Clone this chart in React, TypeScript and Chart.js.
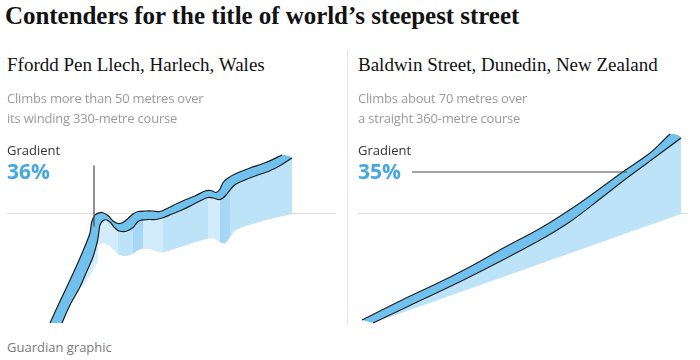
import React, { useEffect, useRef } from 'react';
import { Chart, registerables } from 'chart.js';

Chart.register(...registerables);

type P = [number, number];

// ---- Text ----
const titleText = 'Contenders for the title of world’s steepest street';
const streetNames = ['Ffordd Pen Llech, Harlech, Wales', 'Baldwin Street, Dunedin, New Zealand'];
const streetNotes = [
  ['Climbs more than 50 metres over', 'its winding 330-metre course'],
  ['Climbs about 70 metres over', 'a straight 360-metre course'],
];
const gradientLabel = 'Gradient';
const gradients = ['36%', '35%'];
const sourceText = 'Guardian graphic';

// ---- Ffordd Pen Llech profile (drawing units: x along panel, y above the reference line) ----
const penLlechFarEdge: P[] = [
  [43, -110], [51, -92.5], [60, -73.5], [69, -54], [76, -38], [83, -20], [84.7, -9], [88, -2],
  [92, 0.2], [96, 0.3], [101, -2.5], [106, -8], [111, -10.5], [116, -9.5], [121, -5.5], [126, -1],
  [131, 1.5], [138, 2], [146, 2], [153, 1.5], [161, 5], [170, 9.5], [179, 13.5], [188, 17],
  [198, 22], [204, 22.5], [209, 20.5], [213, 24], [216, 30.5], [221, 35], [228, 39], [243, 45],
  [259, 50.5], [275, 58],
];
const penLlechNearEdge: P[] = [
  [55, -110], [63, -92], [73, -74], [80, -58], [86, -44], [90, -30], [91, -25], [92, -18],
  [93, -12], [96, -7.5], [100, -7], [104, -10], [107, -14], [111, -17.5], [115, -18.5], [120, -18],
  [126, -14.5], [130, -9.5], [133, -7.5], [136, -6.8], [143, -6.5], [149, -6.5], [156, -4.8],
  [165, -1], [175, 3], [185, 8], [193, 12], [201, 15.5], [206, 15], [211, 13.5], [213, 13.5],
  [216, 15], [219, 18], [223, 23], [227, 27.5], [233, 31], [246, 36.3], [263, 42.3], [275, 48.5],
  [285, 55],
];
const penLlechFaceBase: P[] = [
  [91, -31], [97, -30], [103, -33], [111, -41.5], [116, -42.8], [121, -42.5], [126, -40.5],
  [131, -37], [136, -35.5], [143, -36], [150, -38.5], [156, -39.5], [165, -36.5], [175, -33.5],
  [188, -29], [201, -25.5], [206, -25], [210, -27], [213, -29.5], [218, -30.5], [221, -27],
  [223, -24], [227, -18], [235, -14], [245, -11], [258, -7], [273, -3.5], [285, -1],
];
const penLlechSlopeSide: P[] = [
  [92, -18], [91, -25], [90, -30], [86, -44], [80, -58], [73, -74], [77, -72], [84, -61],
  [91, -48], [91, -31],
];
const penLlechFaceBreaks = [91, 111, 126, 136, 156, 201, 213, 223, 285];
const penLlechFaceShades = ['light', 'medium', 'dark', 'light', 'medium', 'light', 'dark', 'medium'];
const penLlechPointerX = [87, 87];
const penLlechPointerY = [47.5, -13.5];

// ---- Baldwin Street profile ----
const baldwinFarEdge: P[] = [
  [4, -107], [42, -88], [82, -69], [112, -53.7], [145, -35.3], [185, -13.7], [219, 8],
  [242, 24.5], [265, 41.3], [292, 60], [312, 79],
];
const baldwinNearEdge: P[] = [
  [15, -110], [52, -92.5], [112, -63.7], [179, -28.7], [212, -8.7], [242, 14], [265, 32],
  [292, 52], [323, 75],
];
const baldwinFaceBase: P[] = [[15, -110], [323, -1]];
const baldwinPointerX = [54, 269];
const baldwinPointerY = [41, 41];

// ---- Style ----
const COLORS: Record<string, string> = {
  light: '#d3ecfc',
  medium: '#bde3f9',
  dark: '#a6d8f5',
  road: '#70c1ee',
  edge: '#1e1e1e',
  pointer: '#4a4a4a',
  grid: '#dcdcdc',
  pct: '#47a7df',
};

const toXY = (a: P[]) => a.map(([x, y]) => ({ x, y }));
const polygon = (top: P[], bottom: P[]) => [...top, ...bottom.slice().reverse()];
const within = (a: P[], lo: number, hi: number) => a.filter(([x]) => x >= lo && x <= hi);

function shapeSet(pts: P[], color: string, order: number, tension = 0) {
  return {
    data: toXY(pts),
    backgroundColor: color,
    borderWidth: 0,
    fill: 'shape',
    tension,
    pointRadius: 0,
    pointHoverRadius: 0,
    order,
  };
}
function lineSet(pts: P[], color: string, width: number, order: number, tension = 0.3) {
  return {
    data: toXY(pts),
    borderColor: color,
    borderWidth: width,
    fill: false,
    tension,
    pointRadius: 0,
    pointHoverRadius: 0,
    order,
  };
}

function makeConfig(datasets: any[], xMax: number): any {
  return {
    type: 'line',
    data: { datasets },
    options: {
      animation: false,
      responsive: false,
      maintainAspectRatio: false,
      devicePixelRatio: 1,
      events: [],
      layout: { padding: 0 },
      plugins: { legend: { display: false }, tooltip: { enabled: false } },
      scales: {
        x: { type: 'linear', display: false, min: 0, max: xMax },
        y: {
          type: 'linear',
          min: -117,
          max: 83,
          ticks: { display: false },
          border: { display: false },
          grid: { drawTicks: false, color: COLORS.grid, lineWidth: 1 },
          afterBuildTicks: (s: any) => {
            s.ticks = [{ value: 0 }];
          },
        },
      },
    },
  };
}

function penLlechDatasets() {
  const ds: any[] = [];
  ds.push(shapeSet(polygon(within(penLlechNearEdge, 91, 285), penLlechFaceBase), COLORS.medium, 12));
  for (let i = 0; i < penLlechFaceShades.length; i++) {
    const lo = penLlechFaceBreaks[i];
    const hi = penLlechFaceBreaks[i + 1];
    ds.push(
      shapeSet(
        polygon(within(penLlechNearEdge, lo, hi), within(penLlechFaceBase, lo, hi)),
        COLORS[penLlechFaceShades[i]],
        11
      )
    );
  }
  ds.push(shapeSet(penLlechSlopeSide, COLORS.light, 11));
  ds.push(shapeSet(polygon(penLlechFarEdge, penLlechNearEdge), COLORS.road, 6, 0.3));
  ds.push(lineSet(penLlechFarEdge, COLORS.edge, 1.2, 2));
  ds.push(lineSet(penLlechNearEdge, COLORS.edge, 1.2, 2));
  ds.push(
    lineSet(
      penLlechPointerX.map((x, i) => [x, penLlechPointerY[i]] as P),
      COLORS.pointer,
      1.2,
      1,
      0
    )
  );
  return ds;
}

function baldwinDatasets() {
  const ds: any[] = [];
  ds.push(shapeSet(polygon(baldwinNearEdge, baldwinFaceBase), COLORS.medium, 12));
  ds.push(shapeSet(polygon(baldwinFarEdge, baldwinNearEdge), COLORS.road, 6, 0.3));
  ds.push(lineSet(baldwinFarEdge, COLORS.edge, 1.1, 2));
  ds.push(lineSet(baldwinNearEdge, COLORS.edge, 1.1, 2));
  ds.push(
    lineSet(
      baldwinPointerX.map((x, i) => [x, baldwinPointerY[i]] as P),
      COLORS.pointer,
      1.2,
      1,
      0
    )
  );
  return ds;
}

const sans = '"Open Sans", "Noto Sans", sans-serif';
const serif = '"Liberation Serif", "DejaVu Serif", serif';

export default function App() {
  const leftRef = useRef<HTMLCanvasElement>(null);
  const rightRef = useRef<HTMLCanvasElement>(null);

  useEffect(() => {
    const c1 = new Chart(leftRef.current as HTMLCanvasElement, makeConfig(penLlechDatasets(), 329));
    const c2 = new Chart(rightRef.current as HTMLCanvasElement, makeConfig(baldwinDatasets(), 330));
    return () => {
      c1.destroy();
      c2.destroy();
    };
  }, []);

  const abs = (extra: React.CSSProperties): React.CSSProperties => ({
    position: 'absolute',
    whiteSpace: 'nowrap',
    margin: 0,
    ...extra,
  });

  const columns = [7, 358];

  return (
    <div
      style={{
        position: 'fixed',
        left: 0,
        top: 0,
        width: 700,
        height: 360,
        background: '#ffffff',
        overflow: 'hidden',
      }}
    >
      <div
        style={abs({
          left: 5,
          top: 1,
          fontFamily: serif,
          fontWeight: 700,
          fontSize: 25,
          lineHeight: '30px',
          color: '#121212',
          letterSpacing: '-0.05px',
        })}
      >
        {titleText}
      </div>
      <div style={abs({ left: 347, top: 50, width: 1, height: 275, background: '#e4e4e4' })} />
      <canvas ref={leftRef} width={329} height={200} style={{ position: 'absolute', left: 7, top: 130 }} />
      <canvas ref={rightRef} width={330} height={200} style={{ position: 'absolute', left: 358, top: 130 }} />
      {columns.map((x, i) => (
        <React.Fragment key={i}>
          <div
            style={abs({
              left: x,
              top: 53,
              fontFamily: serif,
              fontSize: 19,
              lineHeight: '24px',
              color: '#121212',
            })}
          >
            {streetNames[i]}
          </div>
          {streetNotes[i].map((t, j) => (
            <div
              key={j}
              style={abs({
                left: x,
                top: 88 + j * 20,
                fontFamily: sans,
                fontSize: 13,
                lineHeight: '20px',
                color: '#9a9a9a',
                letterSpacing: '-0.2px',
              })}
            >
              {t}
            </div>
          ))}
          <div
            style={abs({
              left: x,
              top: 141,
              fontFamily: sans,
              fontSize: 13,
              lineHeight: '18px',
              color: '#333333',
            })}
          >
            {gradientLabel}
          </div>
          <div
            style={abs({
              left: x,
              top: 158,
              fontFamily: sans,
              fontWeight: 700,
              fontSize: 21,
              lineHeight: '26px',
              color: COLORS.pct,
            })}
          >
            {gradients[i]}
          </div>
        </React.Fragment>
      ))}
      <div
        style={abs({
          left: 7,
          top: 338,
          fontFamily: sans,
          fontSize: 13,
          lineHeight: '18px',
          color: '#7a7a7a',
        })}
      >
        {sourceText}
      </div>
    </div>
  );
}
